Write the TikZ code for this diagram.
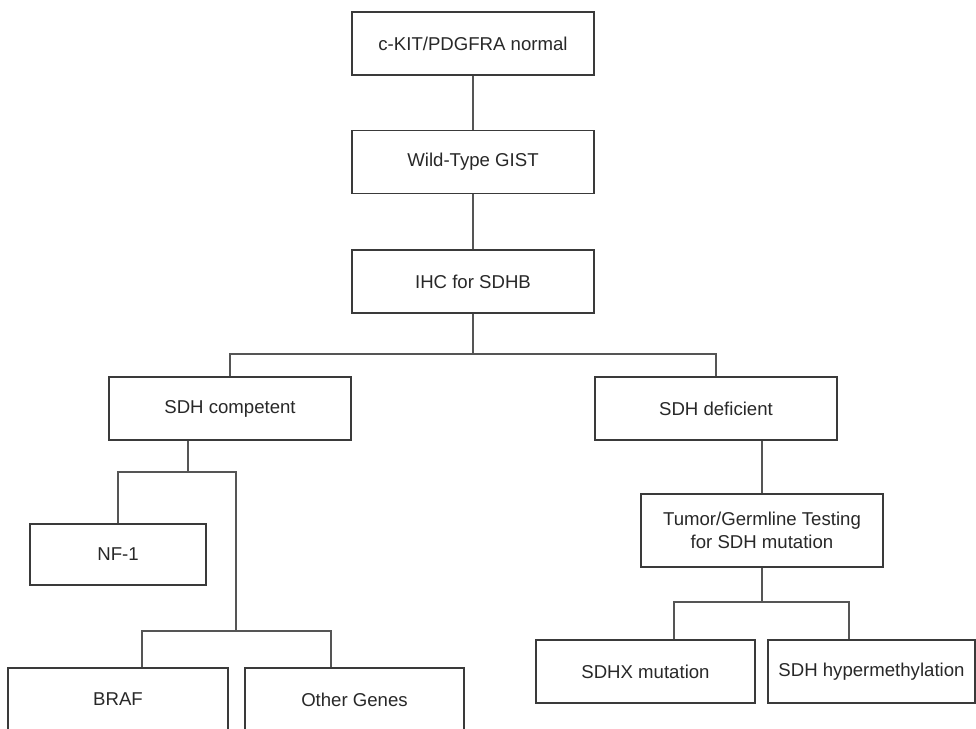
\documentclass[tikz,border=0pt]{standalone}
\usepackage{fontspec}
\setmainfont{Liberation Sans}
\usetikzlibrary{positioning}
\definecolor{boxgray}{RGB}{58, 58, 58}
\definecolor{linegray}{RGB}{85, 85, 85}
\definecolor{txtgray}{RGB}{40, 40, 40}

\begin{document}
\begin{tikzpicture}[x=0.5pt, y=-0.5pt,
                genebox/.style={draw=boxgray, line width=0.75pt, fill=white,
                    minimum width=121pt, minimum height=31.5pt,
                    inner sep=0pt, align=center, text=txtgray,
                    font=\fontsize{9.3}{11.2}\selectfont},
                link/.style={draw=linegray, line width=0.65pt}
            ]

                \clip (0,0) rectangle (976,729);

                \node[genebox] (ckit) at (473, 43.5) {c-KIT/PDGFRA normal};
                \node[genebox, below=27pt of ckit] (wild) {Wild-Type GIST};
                \node[genebox, below=27.5pt of wild] (ihc) {IHC for SDHB};

                \draw[link] (ckit) -- (wild);
                \draw[link] (wild) -- (ihc);

                \coordinate (split1) at (473, 354);
                \node[genebox] (comp) at (230, 408.5) {SDH competent};
                \node[genebox] (defi) at (716, 408.5) {SDH deficient};

                \draw[link] (ihc.south) -- (split1);
                \draw[link] (comp.north) |- (split1) -| (defi.north);

                \coordinate (split2) at (188, 472);
                \coordinate (split3) at (236, 631);
                \node[genebox, minimum width=88pt, minimum height=30.5pt] (nf1) at (118, 554.5) {NF-1};
                \node[genebox, minimum width=110pt] (braf) at (118, 699.5) {BRAF};
                \node[genebox, minimum width=109.5pt] (other) at (354.5, 699.5) {Other Genes};

                \draw[link] (comp.south -| split2) -- (split2);
                \draw[link] (nf1.north) |- (split2) -| (split3);
                \draw[link] ([xshift=12pt]braf.north) |- (split3) -| ([xshift=-11.75pt]other.north);

                \node[genebox, minimum height=36.5pt] (tumor) at (762, 530.5) {Tumor/Germline Testing\\for SDH mutation};
                \draw[link] (tumor.north) -- (tumor.north |- defi.south);

                \coordinate (split4) at (762, 602);
                \node[genebox, minimum width=109.5pt] (sdhx) at (645.5, 671.5) {SDHX mutation};
                \node[genebox, minimum width=103.5pt] (hyper) at (871.5, 671.5) {SDH hypermethylation};

                \draw[link] (tumor.south) -- (split4);
                \draw[link] ([xshift=14.25pt]sdhx.north) |- (split4) -| ([xshift=-11.25pt]hyper.north);

            \end{tikzpicture}
\end{document}
